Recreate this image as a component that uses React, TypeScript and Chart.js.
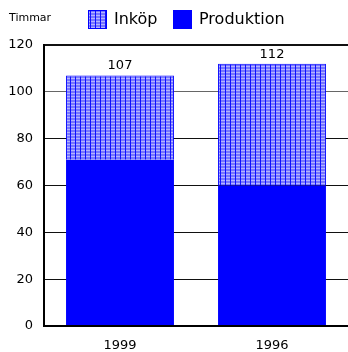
import React, { useEffect, useRef } from "react";
import { Chart, registerables } from "chart.js";

Chart.register(...registerables);

const categories = ["1999", "1996"];
const produktion = [71, 60];
const inkop = [36, 52];
const seriesNames = ["Inköp", "Produktion"];
const yTicks = [0, 20, 40, 60, 80, 100, 120];
const yTitle = "Timmar";

const FONT = "'DejaVu Sans', sans-serif";

function makePattern(): CanvasPattern | string {
  const c = document.createElement("canvas");
  c.width = 5;
  c.height = 3;
  const g = c.getContext("2d");
  if (!g) return "#8080ff";
  g.fillStyle = "#7676ff";
  g.fillRect(0, 0, 5, 3);
  g.fillStyle = "#b4b4ff";
  g.fillRect(0, 0, 5, 1);
  g.fillStyle = "#1010ff";
  g.fillRect(0, 0, 1, 3);
  const p = g.createPattern(c, "repeat");
  return p || "#8080ff";
}

export default function App() {
  const ref = useRef<HTMLCanvasElement | null>(null);
  useEffect(() => {
    document.body.style.margin = "0";
    const canvas = ref.current;
    if (!canvas) return;
    const pattern = makePattern();
    const overlay = {
      id: "overlay",
      afterDraw(chart: any) {
        const ctx = chart.ctx;
        const area = chart.chartArea;
        const ys = chart.scales.y;
        ctx.save();
        // axes lines
        ctx.strokeStyle = "#000";
        ctx.lineWidth = 2;
        ctx.beginPath();
        const y0 = Math.round(ys.getPixelForValue(0));
        const yTop = Math.round(ys.getPixelForValue(120));
        ctx.moveTo(area.left, yTop - 1);
        ctx.lineTo(area.left, y0 + 1);
        ctx.moveTo(area.left, y0);
        ctx.lineTo(area.right, y0);
        ctx.stroke();
        // y title
        ctx.fillStyle = "#000";
        ctx.font = `11px ${FONT}`;
        ctx.textBaseline = "middle";
        ctx.textAlign = "left";
        ctx.fillText(yTitle, 9, 18);
        // legend
        const items = [
          { name: seriesNames[0], fill: pattern, x: 88 },
          { name: seriesNames[1], fill: "#0000ff", x: 173 },
        ];
        ctx.font = `16px ${FONT}`;
        items.forEach((it) => {
          ctx.fillStyle = it.fill as any;
          ctx.fillRect(it.x, 10, 19, 19);
          if (it.fill !== "#0000ff") {
            ctx.strokeStyle = "#0000ff";
            ctx.lineWidth = 1;
            ctx.strokeRect(it.x + 0.5, 10.5, 18, 18);
          }
          ctx.fillStyle = "#000";
          ctx.fillText(it.name, it.x + 26, 20);
        });
        // totals
        const meta = chart.getDatasetMeta(1);
        ctx.font = `13px ${FONT}`;
        ctx.textAlign = "center";
        ctx.textBaseline = "bottom";
        meta.data.forEach((bar: any, i: number) => {
          const total = produktion[i] + inkop[i];
          ctx.fillText(String(total), bar.x, bar.y - 3);
        });
        ctx.restore();
      },
    };
    const chart = new Chart(canvas, {
      type: "bar",
      data: {
        labels: categories,
        datasets: [
          {
            label: seriesNames[1],
            data: produktion,
            backgroundColor: "#0000ff",
            borderWidth: 0,
            categoryPercentage: 1,
            barPercentage: 0.71,
          },
          {
            label: seriesNames[0],
            data: inkop,
            backgroundColor: pattern as any,
            borderColor: "#0000ff",
            borderWidth: 1,
            categoryPercentage: 1,
            barPercentage: 0.71,
          },
        ],
      },
      options: {
        animation: false,
        responsive: false,
        maintainAspectRatio: false,
        layout: { padding: { top: 45, right: 0, left: 0, bottom: 0 } },
        plugins: {
          legend: { display: false },
          tooltip: { enabled: false },
          title: { display: false },
        },
        scales: {
          x: {
            stacked: true,
            grid: { display: false, drawTicks: false },
            border: { display: false },
            ticks: {
              color: "#000",
              font: { family: FONT, size: 13 },
              padding: 12,
            },
            afterFit(scale: any) {
              scale.height = 26;
            },
          },
          y: {
            stacked: true,
            min: 0,
            max: 120,
            afterBuildTicks(scale: any) {
              scale.ticks = yTicks.map((v) => ({ value: v }));
            },
            grid: {
              drawTicks: false,
              color: (c: any) => (c.tick && c.tick.value === 100 ? "#666" : "#111"),
              lineWidth: (c: any) =>
                c.tick && c.tick.value === 120 ? 2 : 1,
            },
            border: { display: false },
            ticks: {
              color: "#000",
              font: { family: FONT, size: 13 },
              padding: 11,
            },
            afterFit(scale: any) {
              scale.width = 44;
            },
          },
        },
      },
      plugins: [overlay],
    });
    return () => chart.destroy();
  }, []);
  return <canvas ref={ref} width={348} height={352} style={{ display: "block" }} />;
}
